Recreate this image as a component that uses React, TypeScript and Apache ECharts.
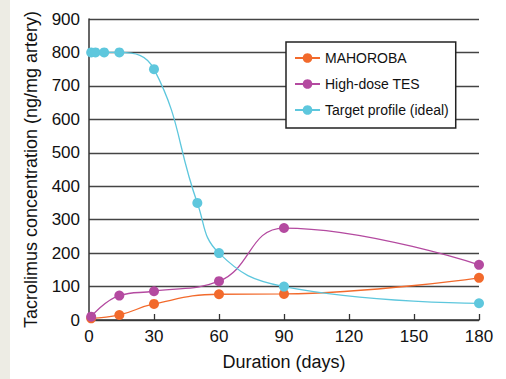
import React, { useEffect, useRef } from "react";
import * as echarts from "echarts";

const days = [1, 14, 30, 60, 90, 180];
const mahoroba = [5, 15, 48, 77, 78, 126];
const highDoseTES = [10, 73, 86, 116, 275, 165];
const targetDays = [1, 3, 7, 14, 30, 50, 60, 90, 180];
const targetProfile = [800, 800, 800, 800, 750, 350, 200, 100, 50];
const seriesNames = ["MAHOROBA", "High-dose TES", "Target profile (ideal)"];
const colors = ["#f26a2c", "#b44aa0", "#5ec7dd"];

const FONT = "Liberation Sans, Arial, Helvetica, sans-serif";

export default function App() {
  const ref = useRef<HTMLDivElement>(null);
  useEffect(() => {
    if (!ref.current) return;
    const chart = echarts.init(ref.current, undefined, { renderer: "svg" });
    const pair = (xs: number[], ys: number[]) => xs.map((x, i) => [x, ys[i]]);
    const mk = (name: string, data: number[][], color: string) => ({
      name,
      type: "line",
      data,
      smooth: 0.45,
      symbol: "circle",
      symbolSize: 10,
      showSymbol: true,
      lineStyle: { color, width: 1.3 },
      itemStyle: { color },
      z: 3,
    });
    chart.setOption({
      animation: false,
      backgroundColor: "#ffffff",
      textStyle: { fontFamily: FONT },
      graphic: [
        {
          type: "rect",
          left: 0,
          top: 0,
          shape: { x: 0, y: 0, width: 10, height: 379 },
          style: { fill: "#edece4" },
          silent: true,
        },
      ],
      grid: { left: 89, right: 27, top: 19, bottom: 59, containLabel: false },
      legend: {
        orient: "vertical",
        left: 286,
        top: 42,
        padding: [8, 7, 10, 8],
        itemGap: 10,
        itemWidth: 25,
        itemHeight: 12,
        borderColor: "#222",
        borderWidth: 1.5,
        backgroundColor: "#ffffff",
        textStyle: { fontFamily: FONT, fontSize: 14, color: "#111", lineHeight: 16 },
        data: seriesNames,
        z: 10,
      },
      xAxis: {
        type: "value",
        min: 0,
        max: 180,
        interval: 30,
        name: "Duration (days)",
        nameLocation: "middle",
        nameGap: 33,
        nameTextStyle: { fontFamily: FONT, fontSize: 18, color: "#111" },
        axisLine: { show: true, lineStyle: { color: "#333", width: 1.5 } },
        axisTick: { show: true, inside: true, length: 6, lineStyle: { color: "#333", width: 1.3 } },
        axisLabel: { fontFamily: FONT, fontSize: 17, color: "#111", margin: 8 },
        splitLine: { show: false },
      },
      yAxis: {
        type: "value",
        min: 0,
        max: 900,
        interval: 100,
        name: "Tacrolimus concentration (ng/mg artery)",
        nameLocation: "middle",
        nameRotate: 90,
        nameGap: 49,
        nameTextStyle: { fontFamily: FONT, fontSize: 18, color: "#111" },
        axisLine: { show: true, lineStyle: { color: "#333", width: 1.5 } },
        axisTick: { show: false },
        axisLabel: { fontFamily: FONT, fontSize: 17, color: "#111", margin: 9 },
        splitLine: { show: true, lineStyle: { color: "#444", width: 1.3 } },
      },
      series: [
        mk(seriesNames[0], pair(days, mahoroba), colors[0]),
        mk(seriesNames[1], pair(days, highDoseTES), colors[1]),
        mk(seriesNames[2], pair(targetDays, targetProfile), colors[2]),
      ],
    });
    return () => chart.dispose();
  }, []);
  return (
    <div
      ref={ref}
      style={{ position: "fixed", left: 0, top: 0, width: 506, height: 379 }}
    />
  );
}
